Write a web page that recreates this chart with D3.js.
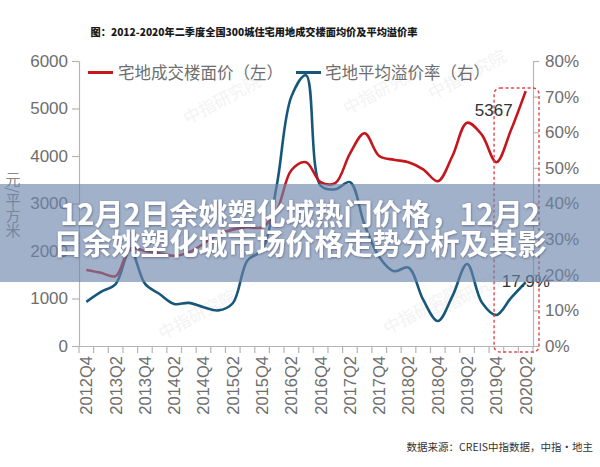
<!DOCTYPE html>
<html><head><meta charset="utf-8">
<script src="https://cdn.jsdelivr.net/npm/d3@7"></script>
<style>
html,body{margin:0;padding:0;background:#fff;}
svg{display:block;}
</style></head>
<body>
<script>
const quarters = ["2012Q4","2013Q1","2013Q2","2013Q3","2013Q4","2014Q1","2014Q2","2014Q3","2014Q4","2015Q1","2015Q2","2015Q3","2015Q4","2016Q1","2016Q2","2016Q3","2016Q4","2017Q1","2017Q2","2017Q3","2017Q4","2018Q1","2018Q2","2018Q3","2018Q4","2019Q1","2019Q2","2019Q3","2019Q4","2020Q1","2020Q2"];
const labelQuarters = ["2012Q4","2013Q2","2013Q4","2014Q2","2014Q4","2015Q2","2015Q4","2016Q2","2016Q4","2017Q2","2017Q4","2018Q2","2018Q4","2019Q2","2019Q4","2020Q2"];
const priceValues = [1600,1540,1470,2050,2000,1950,1900,1970,2150,2350,2450,2500,2500,2850,3700,3870,3450,3430,4050,4480,4000,3920,3870,3720,3470,4000,4700,4450,3870,4550,5367];
const premiumValues = [12.4,15.2,17.4,27,17.5,14.6,11.8,12.1,10.9,10,12,24,27,45,70,76,45,44,46,34,25,21,22,13,7,14,23,12.3,8.7,13.5,17.9];
const leftTicks = [0,1000,2000,3000,4000,5000,6000];
const rightTicks = [0,10,20,30,40,50,60,70,80];
const seriesNames = ["宅地成交楼面价（左）","宅地平均溢价率（右）"];
const titleText = "图：2012-2020年二季度全国300城住宅用地成交楼面均价及平均溢价率";
const yAxisTitle = "元/平方米";
const sourceText = "数据来源：CREIS中指数据，中指·地主";
const bannerLines = ["12月2日余姚塑化城热门价格，12月2","日余姚塑化城市场价格走势分析及其影"];
const watermark = "中指研究院";

const W = 600, H = 467;
const RED = "#c4161c", BLUE = "#17587a", GRAY = "#6e6e6e", AXIS = "#b5b5b5";
const numFont = "'Liberation Sans', Arial, sans-serif";
const cjkFont = "'Noto Sans CJK SC', 'Noto Sans', sans-serif";

const svg = d3.select("body").append("svg").attr("width", W).attr("height", H);

const x = d3.scaleBand().domain(quarters).range([79, 533]);
const yL = d3.scaleLinear().domain([0, 6000]).range([346, 61]);
const yR = d3.scaleLinear().domain([0, 80]).range([346, 61]);
const cx = q => x(q) + x.bandwidth() / 2;

// watermarks
const wm = [[225,105],[385,95],[470,80],[200,320],[425,315],[470,300]];
svg.append("g").selectAll("text").data(wm).join("text")
  .attr("transform", d => `translate(${d[0]},${d[1]}) rotate(-28)`)
  .attr("text-anchor", "middle")
  .style("font-family", cjkFont).style("font-size", "17px")
  .style("fill", "#f3f3f3").text(watermark);

// title
svg.append("text").attr("x", 254).attr("y", 36).attr("text-anchor", "middle")
  .style("font-family", cjkFont).style("font-weight", "900").style("font-size", "10.2px")
  .style("fill", "#1a1a1a").text(titleText);

// left axis
const gL = svg.append("g").attr("transform", "translate(79,0)")
  .call(d3.axisLeft(yL).tickValues(leftTicks).tickSize(7).tickPadding(4).tickSizeOuter(0).tickFormat(d3.format("d")));
gL.selectAll("text").style("font-family", numFont).style("font-size", "17px").style("fill", GRAY);
gL.selectAll("line,path").attr("stroke", AXIS).attr("stroke-width", 1.2);

// right axis
const gR = svg.append("g").attr("transform", "translate(533,0)")
  .call(d3.axisRight(yR).tickValues(rightTicks).tickSize(6).tickPadding(6).tickSizeOuter(0).tickFormat(d => d + "%"));
gR.selectAll("text").style("font-family", numFont).style("font-size", "17px").style("fill", GRAY);
gR.selectAll("line,path").attr("stroke", AXIS).attr("stroke-width", 1.2);

// bottom axis
const gB = svg.append("g").attr("transform", "translate(0,346)")
  .call(d3.axisBottom(x).tickValues(labelQuarters).tickSize(0).tickSizeOuter(0));
gB.select("path").attr("stroke", AXIS).attr("stroke-width", 1.2);
gB.selectAll("text").attr("transform", "rotate(-90)").attr("x", -10).attr("y", 0).attr("dy", "0.36em")
  .style("text-anchor", "end").style("font-family", numFont).style("font-size", "16.5px").style("fill", GRAY);
const bounds = quarters.map(q => x(q)).concat([x.range()[1]]);
svg.append("g").selectAll("line").data(bounds).join("line")
  .attr("x1", d => d).attr("x2", d => d).attr("y1", 346).attr("y2", 353)
  .attr("stroke", AXIS).attr("stroke-width", 1.2);

// y-axis title
svg.append("text").attr("x", 13).attr("y", 172)
  .style("writing-mode", "vertical-rl")
  .style("font-family", cjkFont).style("font-size", "15px").style("fill", "#888").text(yAxisTitle);

// lines
const lineP = d3.line().x((d, i) => cx(quarters[i])).y(d => yL(d)).curve(d3.curveCatmullRom.alpha(0.5));
const lineR = d3.line().x((d, i) => cx(quarters[i])).y(d => yR(d)).curve(d3.curveCatmullRom.alpha(0.5));
svg.append("path").datum(premiumValues).attr("d", lineR).attr("fill", "none")
  .attr("stroke", BLUE).attr("stroke-width", 2.6);
svg.append("path").datum(priceValues).attr("d", lineP).attr("fill", "none")
  .attr("stroke", RED).attr("stroke-width", 2.6);

// legend
const lg = svg.append("g");
[[88, 118, RED, seriesNames[0]], [296, 325, BLUE, seriesNames[1]]].forEach(d => {
  lg.append("line").attr("x1", d[0]).attr("x2", d[0] + 25).attr("y1", 72.5).attr("y2", 72.5)
    .attr("stroke", d[2]).attr("stroke-width", 3);
  lg.append("text").attr("x", d[1]).attr("y", 78.5)
    .style("font-family", cjkFont).style("font-size", "16.5px").style("fill", GRAY).text(d[3]);
});

// highlight box
const last = quarters[quarters.length - 1];
const q28 = quarters[quarters.length - 3];
svg.append("rect")
  .attr("x", x(q28) + 5).attr("y", yL(5367) - 3)
  .attr("width", x.range()[1] + 6 - (x(q28) + 5)).attr("height", yL(0) + 6 - (yL(5367) - 3))
  .attr("rx", 6).attr("ry", 6)
  .attr("fill", "none").attr("stroke", "#e0474c").attr("stroke-width", 1.4).attr("stroke-dasharray", "3,2.5");

// value labels
svg.append("text").attr("x", cx(last) - 13).attr("y", yL(5367) + 25).attr("text-anchor", "end")
  .style("font-family", numFont).style("font-size", "17px").style("fill", "#333").text("5367");
svg.append("text").attr("x", cx(last) - 24).attr("y", yR(17.9) + 5)
  .style("font-family", numFont).style("font-size", "17px").style("fill", "#333").text("17.9%");

// source
svg.append("text").attr("x", 593).attr("y", 451).attr("text-anchor", "end")
  .style("font-family", cjkFont).style("font-size", "10.5px").style("fill", "#333").text(sourceText);

// banner
const defs = svg.append("defs");
const f = defs.append("filter").attr("id", "sh").attr("x", "-10%").attr("y", "-30%").attr("width", "120%").attr("height", "160%");
f.append("feDropShadow").attr("dx", 0.5).attr("dy", 0.8).attr("stdDeviation", 0.8).attr("flood-color", "#334").attr("flood-opacity", 0.55);
svg.append("rect").attr("x", 0).attr("y", 184).attr("width", W).attr("height", 98)
  .attr("fill", "rgb(108,133,172)").attr("fill-opacity", 0.64);
svg.append("g").selectAll("text").data(bannerLines).join("text")
  .attr("x", 300).attr("y", (d, i) => 224.5 + i * 30).attr("text-anchor", "middle")
  .attr("filter", "url(#sh)")
  .style("font-family", cjkFont).style("font-weight", "bold").style("font-size", "29px")
  .style("fill", "#fff").text(d => d);
</script>
</body></html>
